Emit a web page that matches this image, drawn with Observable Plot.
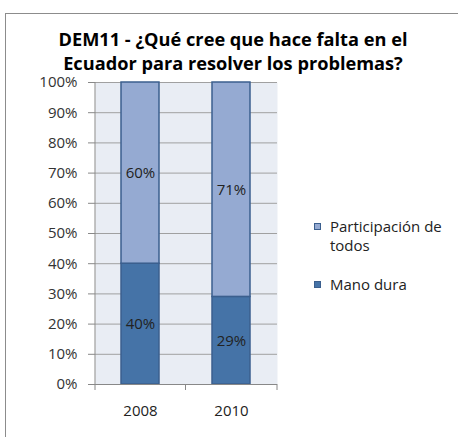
<!DOCTYPE html>
<html>
<head>
<meta charset="utf-8">
<script src="https://cdn.jsdelivr.net/npm/d3@7"></script>
<script src="https://cdn.jsdelivr.net/npm/@observablehq/plot@0.6"></script>
<style>
  html, body { margin: 0; padding: 0; background: #fff; }
  #wrap { position: relative; width: 458px; height: 437px; overflow: hidden; font-family: "Open Sans", sans-serif; }
  #frame { position: absolute; left: 5px; top: 13px; width: 460px; height: 440px; border-left: 1px solid #8c8c8c; border-top: 1px solid #8c8c8c; box-sizing: border-box; }
  #title { position: absolute; left: 0; width: 466px; top: 27px; text-align: center; font-weight: bold; font-size: 18.2px; line-height: 24px; color: #000; }
  #chart { position: absolute; left: 0; top: 0; }
  .leg { position: absolute; left: 314px; font-size: 15px; line-height: 19px; color: #222; }
  .leg i { position: absolute; left: 0; top: 6px; width: 7px; height: 7px; box-sizing: border-box; }
  .leg span { display: block; margin-left: 16px; }
</style>
</head>
<body>
<div id="wrap">
  <div id="frame"></div>
  <div id="chart"></div>
  <div id="title">DEM11 - ¿Qué cree que hace falta en el<br>Ecuador para resolver los problemas?</div>
  <div id="legend"></div>
</div>
<script>
const years = ["2008", "2010"];
const series = ["Mano dura", "Participación de todos"];
const manoDura = [40, 29];
const participacion = [60, 71];
const yTicks = [0, 10, 20, 30, 40, 50, 60, 70, 80, 90, 100];
const colors = ["#4573A7", "#95AAD2"];

const data = [];
years.forEach((y, i) => {
  data.push({year: y, serie: series[0], value: manoDura[i], order: 0});
  data.push({year: y, serie: series[1], value: participacion[i], order: 1});
});

const chart = Plot.plot({
  width: 458,
  height: 437,
  marginLeft: 95,
  marginRight: 181,
  marginTop: 82,
  marginBottom: 53,
  style: {background: "transparent", fontFamily: "Open Sans, sans-serif"},
  x: {domain: years, paddingInner: 0.58, paddingOuter: 0.29, label: null, axis: null},
  y: {domain: [0, 100], label: null, axis: null},
  color: {domain: series, range: colors},
  marks: [
    Plot.frame({fill: "#E9EDF4", stroke: null}),
    Plot.gridY(yTicks, {stroke: "#A0A0A0", strokeOpacity: 1, strokeWidth: 1}),
    Plot.barY(data, Plot.stackY({
      x: "year", y: "value", fill: "serie", order: "order",
      stroke: "#3B5F8E", strokeWidth: 1.5, inset: 0
    })),
    Plot.text(data, Plot.stackY({
      x: "year", y: "value", order: "order",
      text: d => d.value + "%", fill: "#222", fontSize: 15
    })),
    Plot.axisY(yTicks, {
      tickFormat: d => d + "%", tickSize: 7, tickPadding: 11,
      stroke: "#888", fill: "#333", fontSize: 15, label: null
    }),
    Plot.ruleY([0], {stroke: "#888"}),
    Plot.axisX({
      tickSize: 0, tickPadding: 21, fill: "#222", fontSize: 15, label: null
    })
  ]
});
document.getElementById("chart").appendChild(chart);

// left axis line and x-axis tick marks at category boundaries
{
  const x = chart.scale("x");
  const y = chart.scale("y");
  const svg = d3.select(chart);
  const bw = x.bandwidth;
  const xs = years.map(v => x.apply(v));
  const r0 = x.range[0], r1 = x.range[1];
  const bounds = [r0, (xs[0] + xs[1] + bw) / 2, r1];
  const y0 = y.apply(0), y1 = y.apply(100);
  svg.append("line").attr("x1", r0).attr("x2", r0).attr("y1", y1).attr("y2", y0).attr("stroke", "#888");
  svg.append("g").selectAll("line").data(bounds).join("line")
    .attr("x1", d => d).attr("x2", d => d).attr("y1", y0).attr("y2", y0 + 6)
    .attr("stroke", "#888");
}

const legend = document.getElementById("legend");
const legendItems = [
  {label: "Participación de<br>todos", color: colors[1], top: 217},
  {label: "Mano dura", color: colors[0], top: 275}
];
legendItems.forEach(it => {
  const d = document.createElement("div");
  d.className = "leg";
  d.style.top = it.top + "px";
  d.innerHTML = `<i style="background:${it.color};border:1px solid #3B5F8E"></i><span>${it.label}</span>`;
  legend.appendChild(d);
});
</script>
</body>
</html>
